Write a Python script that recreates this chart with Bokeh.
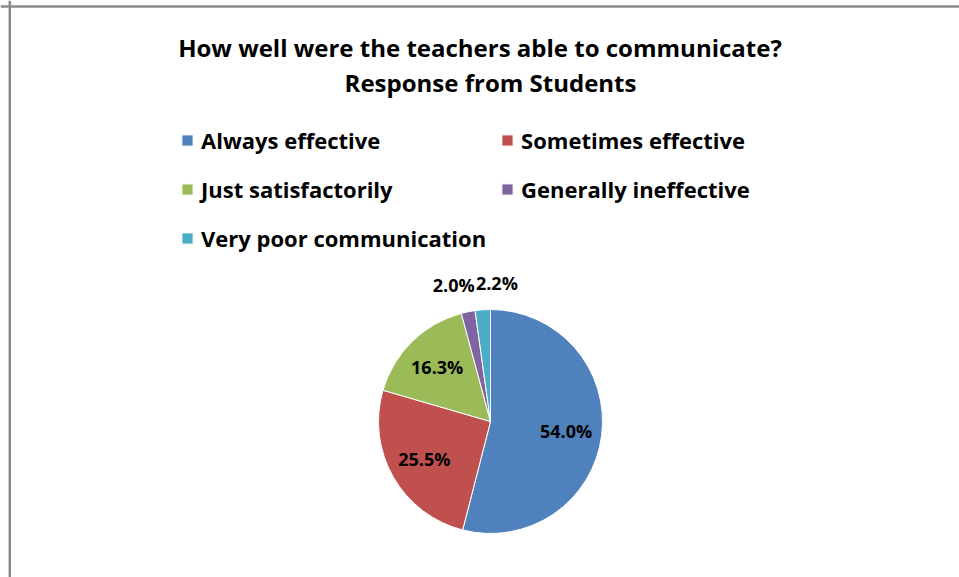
import math
from bokeh.plotting import figure
from bokeh.models import Range1d, Span, Label, Legend, LegendItem, ColumnDataSource
from bokeh.embed import file_html
from bokeh.resources import INLINE

categories = ["Always effective", "Sometimes effective", "Just satisfactorily",
              "Generally ineffective", "Very poor communication"]
percent = [54.0, 25.5, 16.3, 2.0, 2.2]
colors = ["#4F81BD", "#C0504D", "#9BBB59", "#8064A2", "#4BACC6"]
title_lines = ["How well were the teachers able to communicate?", "Response from Students"]

FONT = "Open Sans"
W, H = 959, 577
p = figure(width=W, height=H, x_range=Range1d(0, W), y_range=Range1d(0, H),
           output_backend="svg", toolbar_location=None, min_border=0,
           x_axis_type=None, y_axis_type=None)
p.grid.visible = False
p.outline_line_color = None
p.background_fill_color = "white"
p.border_fill_color = "white"

# chart frame (only top and left edges visible in reference)
p.add_layout(Span(location=H - 6, dimension="width", line_color="#8a8a8a", line_width=2.5))
p.add_layout(Span(location=9.3, dimension="height", line_color="#8a8a8a", line_width=2.5))

# title
p.add_layout(Label(x=479.5, y=H - 47, text=title_lines[0], text_align="center",
                   text_baseline="middle", text_font=FONT, text_font_style="bold",
                   text_font_size="24px", text_color="black"))
p.add_layout(Label(x=490, y=H - 82, text=title_lines[1], text_align="center",
                   text_baseline="middle", text_font=FONT, text_font_style="bold",
                   text_font_size="24px", text_color="black"))

# pie
cx, cy, R = 490, H - 421, 112
total = sum(percent)
starts, ends, mids = [], [], []
cum = 0.0
for v in percent:
    a0 = math.pi / 2 - 2 * math.pi * cum / total
    cum += v
    a1 = math.pi / 2 - 2 * math.pi * cum / total
    starts.append(a0)
    ends.append(a1)
    mids.append((a0 + a1) / 2)

src = ColumnDataSource(dict(cat=categories, pct=percent, color=colors, start=starts, end=ends))
r = p.wedge(x=cx, y=cy, radius=R, start_angle="start", end_angle="end", direction="clock",
            fill_color="color", line_color="white", line_width=1, source=src)

# data labels
small_side = ["right", "left"]
k = 0
for v, a in zip(percent, mids):
    txt = f"{v:.1f}%"
    if v >= 5:
        rr = 0.68 * R
        p.add_layout(Label(x=cx + rr * math.cos(a), y=cy + rr * math.sin(a), text=txt,
                           text_align="center", text_baseline="middle", text_font=FONT,
                           text_font_style="bold", text_font_size="18px", text_color="black"))
    else:
        rr = 1.24 * R
        p.add_layout(Label(x=cx + rr * math.cos(a) + (12 if k == 0 else -5),
                           y=cy + rr * math.sin(a), text=txt,
                           text_align=small_side[k % 2], text_baseline="middle", text_font=FONT,
                           text_font_style="bold", text_font_size="18px", text_color="black"))
        k += 1

legend = Legend(items=[LegendItem(label=c, renderers=[r], index=i) for i, c in enumerate(categories)],
                location=(180, 322), orientation="horizontal", ncols=2,
                border_line_color=None, background_fill_alpha=0, padding=0, margin=0,
                glyph_width=14, glyph_height=14, label_standoff=7, spacing=14,
                label_height=35, label_text_font=FONT, label_text_font_style="bold",
                label_text_font_size="22px", label_text_color="black")
p.add_layout(legend)

open("out.html", "w").write(file_html(p, INLINE))
